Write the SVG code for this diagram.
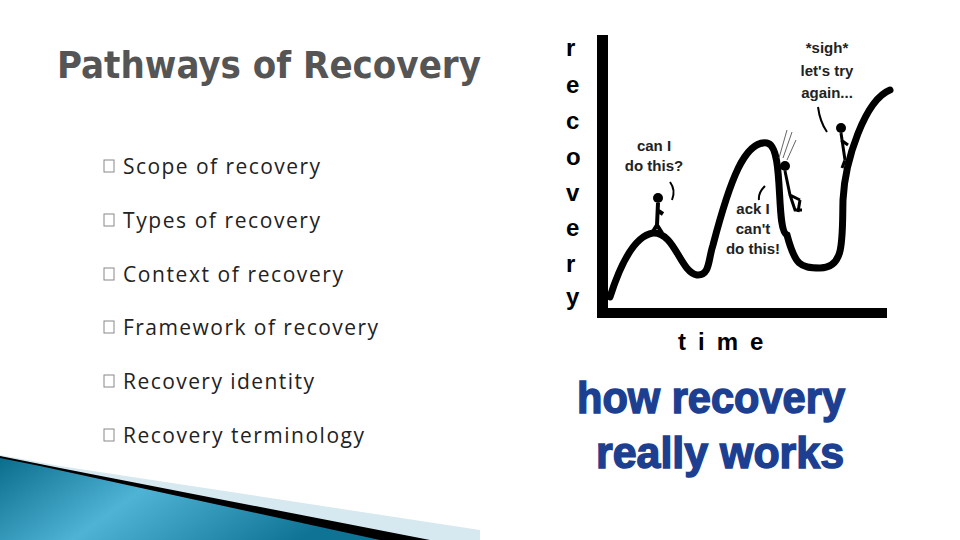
<svg xmlns="http://www.w3.org/2000/svg" width="960" height="540" viewBox="0 0 960 540">
<defs>
<linearGradient id="bl" x1="0" y1="0" x2="1" y2="0.3">
<stop offset="0" stop-color="#0a6d8c"/><stop offset="0.45" stop-color="#4fb3d6"/><stop offset="1" stop-color="#0e7394"/>
</linearGradient>
<style>
.b{font-family:"Open Sans","Liberation Sans",sans-serif;font-size:21px;fill:#222}
.bx{fill:none;stroke:#888;stroke-width:1}
.h{font-family:"Liberation Sans",sans-serif;font-weight:bold;fill:#000;font-size:24px}
.s{font-family:"Liberation Sans",sans-serif;font-weight:bold;fill:#222;font-size:15px;text-anchor:middle}
.w{font-family:"Liberation Sans",sans-serif;font-weight:900;fill:#1d3f91;font-size:44px;stroke:#1d3f91;stroke-width:1.5}
</style>
</defs>
<rect width="960" height="540" fill="#fff"/>
<g id="title"><text x="57" y="78" font-family="'DejaVu Sans Condensed','Liberation Sans',sans-serif" font-weight="bold" font-size="38" fill="#555" textLength="424" lengthAdjust="spacingAndGlyphs">Pathways of Recovery</text></g>
<g id="bullets">
<rect class="bx" x="104" y="160" width="10" height="12"/><text class="b" x="123" y="174" textLength="197">Scope of recovery</text>
<rect class="bx" x="104" y="214" width="10" height="12"/><text class="b" x="123" y="228" textLength="197">Types of recovery</text>
<rect class="bx" x="104" y="268" width="10" height="12"/><text class="b" x="123" y="282" textLength="220">Context of recovery</text>
<rect class="bx" x="104" y="321" width="10" height="12"/><text class="b" x="123" y="335" textLength="255">Framework of recovery</text>
<rect class="bx" x="104" y="375" width="10" height="12"/><text class="b" x="123" y="389" textLength="191">Recovery identity</text>
<rect class="bx" x="104" y="429" width="10" height="12"/><text class="b" x="123" y="443" textLength="241">Recovery terminology</text>
</g>
<g id="deco">
<polygon points="0,455 60,466 480,530 480,540 0,540" fill="#d6e9f0"/>
<polygon points="0,456 60,468 430,540 0,540" fill="#000"/>
<polygon points="0,458 40,466 380,540 0,540" fill="url(#bl)"/>
</g>
<g id="chart">
<text class="h" x="566" y="56">r</text><text class="h" x="566" y="93">e</text><text class="h" x="566" y="129">c</text><text class="h" x="566" y="165">o</text><text class="h" x="566" y="201">v</text><text class="h" x="566" y="236">e</text><text class="h" x="566" y="272">r</text><text class="h" x="566" y="305">y</text>
<rect x="597" y="35" width="11" height="283" fill="#000"/>
<rect x="597" y="308" width="290" height="10" fill="#000"/>
<text class="h" x="678" y="350" font-size="26" letter-spacing="12">time</text>
<path d="M610,297 C625,250 640,235 653,233 C675,232 680,272 697,275 C710,276 708,260 713,245 C730,180 745,140 767,143 C785,146 775,230 787,235 C795,265 800,268 820,268 C845,268 842,240 843,200 C845,160 865,100 890,90" fill="none" stroke="#000" stroke-width="7" stroke-linecap="round"/>
<circle cx="658" cy="198" r="5"/><path d="M658,203 L657,225 M657,225 L652,233 M657,225 L662,233 M657,210 L663,214" stroke="#000" stroke-width="4" fill="none"/>
<circle cx="785" cy="166" r="5"/><path d="M785,171 L790,195 L800,200 M790,195 L795,210 L802,210 M800,200 L798,212" stroke="#000" stroke-width="3" fill="none"/>
<path d="M779,158 L787,130 M783,158 L792,132 M787,160 L796,140" stroke="#666" stroke-width="1" fill="none"/>
<circle cx="841" cy="128" r="5"/><path d="M841,133 L845,160 M841,140 L848,145 M845,160 L842,168" stroke="#000" stroke-width="3" fill="none"/>
<text class="s"><tspan x="654" y="151">can I</tspan><tspan x="654" y="171">do this?</tspan></text>
<path d="M670,182 Q676,190 672,200" fill="none" stroke="#000" stroke-width="2"/>
<text class="s"><tspan x="753" y="214">ack I</tspan><tspan x="753" y="234">can't</tspan><tspan x="753" y="254">do this!</tspan></text>
<path d="M765,186 Q758,193 759,200" fill="none" stroke="#000" stroke-width="2"/>
<text class="s"><tspan x="827" y="53">*sigh*</tspan><tspan x="827" y="76">let's try</tspan><tspan x="827" y="98">again...</tspan></text>
<path d="M818,107 Q820,122 827,132" fill="none" stroke="#000" stroke-width="2"/>
<text class="w" x="577" y="413" textLength="268" lengthAdjust="spacingAndGlyphs">how recovery</text>
<text class="w" x="596" y="468" textLength="248" lengthAdjust="spacingAndGlyphs">really works</text>
</g>
</svg>
